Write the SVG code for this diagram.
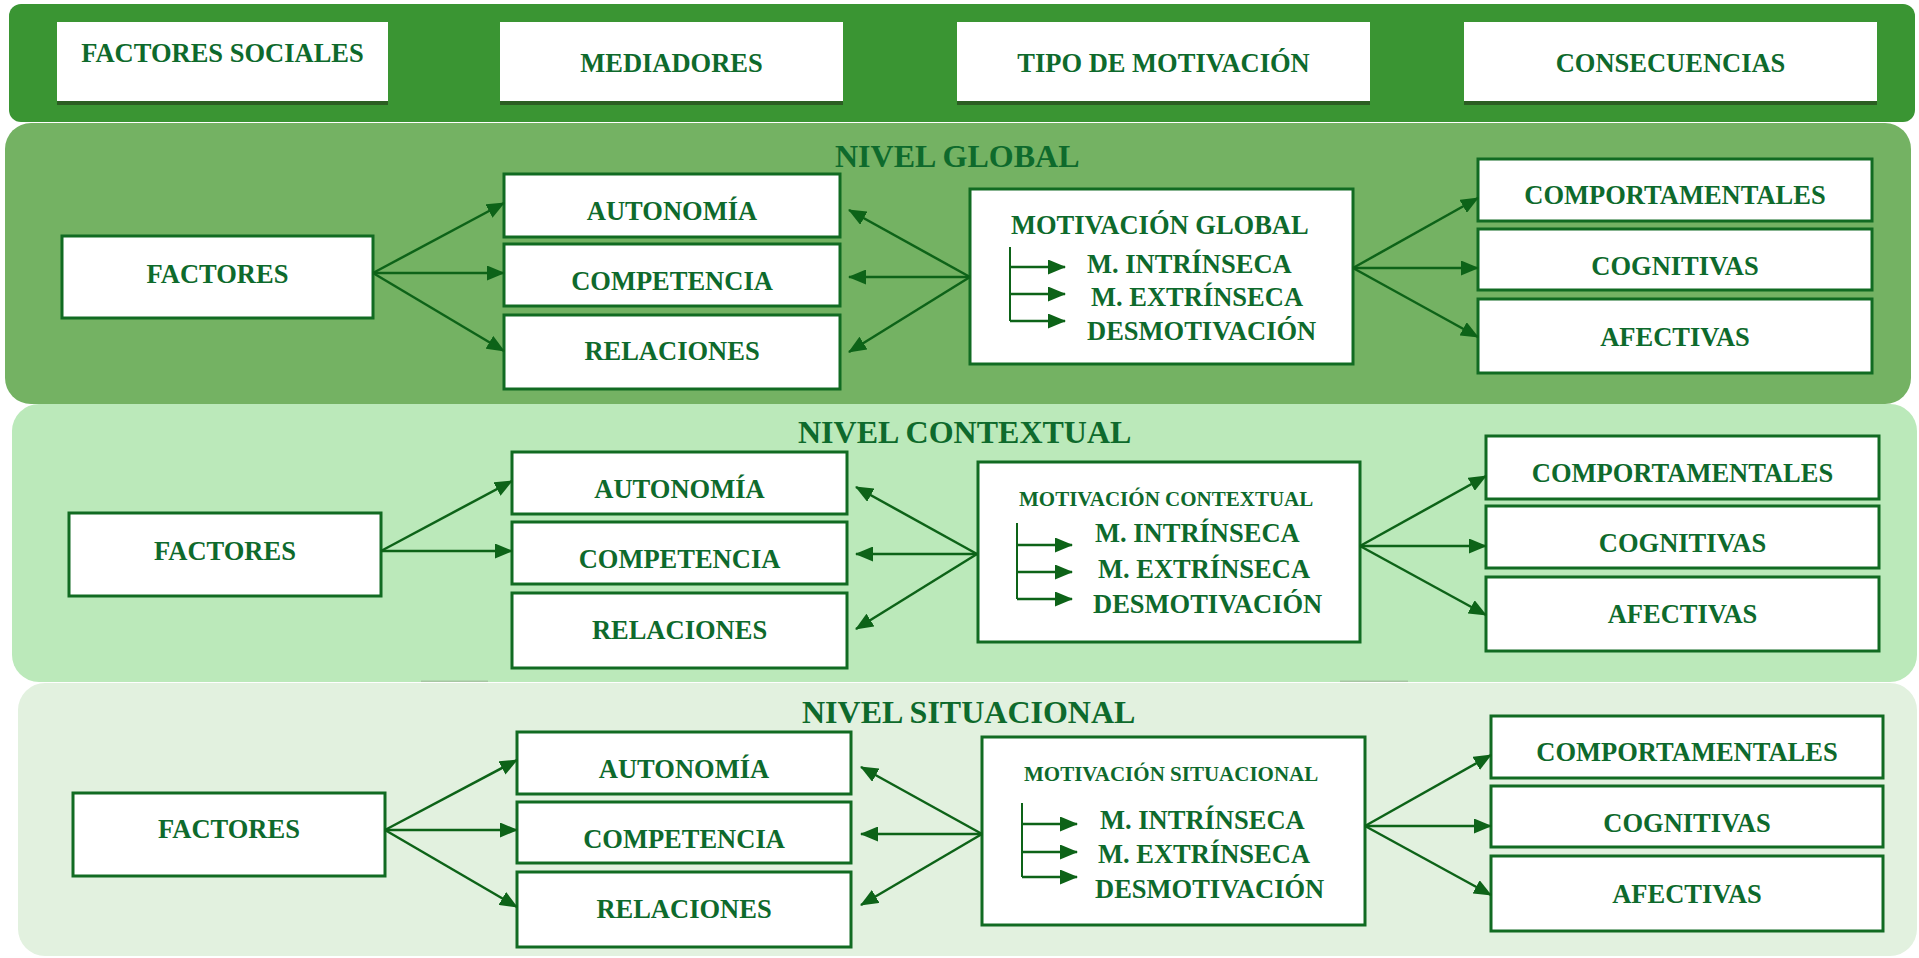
<svg xmlns="http://www.w3.org/2000/svg" width="1919" height="958" viewBox="0 0 1919 958">
<style>
text{font-family:"Liberation Serif","Times New Roman",serif;font-weight:bold;fill:#0e6a2c;font-size:26.5px}
.c{text-anchor:middle}
.t{font-size:32px}
.s{font-size:21px}
.box{fill:#fff;stroke:#116b22;stroke-width:3}
.hdr{fill:#fff}
.sh{fill:#2b5e22}
.a{stroke:#0d6318;stroke-width:2.5;fill:none;marker-end:url(#ah)}
.b{stroke:#0d6318;stroke-width:2;fill:none}
</style>
<defs>
<marker id="ah" markerUnits="userSpaceOnUse" markerWidth="18" markerHeight="15" refX="17" refY="7.5" orient="auto" viewBox="0 0 18 15">
<path d="M0,0 L18,7.5 L0,15 z" fill="#0d6318"/>
</marker>
</defs>
<rect width="1919" height="958" fill="#fff"/>
<g id="panels">
<rect x="9" y="4" width="1906" height="118" rx="12" fill="#3a9533"/>
<rect x="5" y="123" width="1906" height="281" rx="26" fill="#74b263"/>
<rect x="12" y="404" width="1905" height="278" rx="27" fill="#bbe9ba"/>
<rect x="18" y="683" width="1899" height="273" rx="27" fill="#e2f1df"/>
<rect x="421" y="680.5" width="67" height="1.5" fill="#a6c6a2"/>
<rect x="1340" y="680.5" width="68" height="1.5" fill="#a6c6a2"/>
</g>
<g id="header">
<g id="h-factores"><rect class="sh" x="57" y="101" width="331" height="4"/><rect class="hdr" x="57" y="22" width="331" height="79"/><text class="c" x="222.5" y="62">FACTORES SOCIALES</text></g>
<g id="h-mediadores"><rect class="sh" x="500" y="101" width="343" height="4"/><rect class="hdr" x="500" y="22" width="343" height="79"/><text class="c" x="671.5" y="72">MEDIADORES</text></g>
<g id="h-tipo"><rect class="sh" x="957" y="101" width="413" height="4"/><rect class="hdr" x="957" y="22" width="413" height="79"/><text class="c" x="1163.5" y="72">TIPO DE MOTIVACIÓN</text></g>
<g id="h-consecuencias"><rect class="sh" x="1464" y="101" width="413" height="4"/><rect class="hdr" x="1464" y="22" width="413" height="79"/><text class="c" x="1670.5" y="72">CONSECUENCIAS</text></g>
</g>
<text class="t" x="835" y="167">NIVEL GLOBAL</text>
<text class="t" x="798" y="443">NIVEL CONTEXTUAL</text>
<text class="t" x="802" y="723">NIVEL SITUACIONAL</text>
<g id="g-factores"><rect class="box" x="62" y="236" width="311" height="82"/><text class="c" x="217.5" y="283">FACTORES</text></g>
<g id="g-autonomia"><rect class="box" x="504" y="174" width="336" height="63"/><text class="c" x="672" y="220">AUTONOMÍA</text></g>
<g id="g-competencia"><rect class="box" x="504" y="244" width="336" height="62"/><text class="c" x="672" y="290">COMPETENCIA</text></g>
<g id="g-relaciones"><rect class="box" x="504" y="315" width="336" height="74"/><text class="c" x="672" y="360">RELACIONES</text></g>
<g id="g-motivacion"><rect class="box" x="970" y="189" width="383" height="175"/><text x="1011" y="234">MOTIVACIÓN GLOBAL</text><text x="1087" y="273">M. INTRÍNSECA</text><text x="1091" y="306">M. EXTRÍNSECA</text><text x="1087" y="340">DESMOTIVACIÓN</text></g>
<g id="g-comportamentales"><rect class="box" x="1478" y="159" width="394" height="62"/><text class="c" x="1675" y="204">COMPORTAMENTALES</text></g>
<g id="g-cognitivas"><rect class="box" x="1478" y="229" width="394" height="61"/><text class="c" x="1675" y="275">COGNITIVAS</text></g>
<g id="g-afectivas"><rect class="box" x="1478" y="299" width="394" height="74"/><text class="c" x="1675" y="346">AFECTIVAS</text></g>
<g id="c-factores"><rect class="box" x="69" y="513" width="312" height="83"/><text class="c" x="225" y="560">FACTORES</text></g>
<g id="c-autonomia"><rect class="box" x="512" y="452" width="335" height="62"/><text class="c" x="679.5" y="498">AUTONOMÍA</text></g>
<g id="c-competencia"><rect class="box" x="512" y="522" width="335" height="62"/><text class="c" x="679.5" y="568">COMPETENCIA</text></g>
<g id="c-relaciones"><rect class="box" x="512" y="593" width="335" height="75"/><text class="c" x="679.5" y="639">RELACIONES</text></g>
<g id="c-motivacion"><rect class="box" x="978" y="462" width="382" height="180"/><text class="s" x="1019" y="506">MOTIVACIÓN CONTEXTUAL</text><text x="1095" y="542">M. INTRÍNSECA</text><text x="1098" y="578">M. EXTRÍNSECA</text><text x="1093" y="613">DESMOTIVACIÓN</text></g>
<g id="c-comportamentales"><rect class="box" x="1486" y="436" width="393" height="63"/><text class="c" x="1682.5" y="482">COMPORTAMENTALES</text></g>
<g id="c-cognitivas"><rect class="box" x="1486" y="506" width="393" height="62"/><text class="c" x="1682.5" y="552">COGNITIVAS</text></g>
<g id="c-afectivas"><rect class="box" x="1486" y="577" width="393" height="74"/><text class="c" x="1682.5" y="623">AFECTIVAS</text></g>
<g id="s-factores"><rect class="box" x="73" y="793" width="312" height="83"/><text class="c" x="229" y="838">FACTORES</text></g>
<g id="s-autonomia"><rect class="box" x="517" y="732" width="334" height="62"/><text class="c" x="684" y="778">AUTONOMÍA</text></g>
<g id="s-competencia"><rect class="box" x="517" y="802" width="334" height="61"/><text class="c" x="684" y="848">COMPETENCIA</text></g>
<g id="s-relaciones"><rect class="box" x="517" y="872" width="334" height="75"/><text class="c" x="684" y="918">RELACIONES</text></g>
<g id="s-motivacion"><rect class="box" x="982" y="737" width="383" height="188"/><text class="s" x="1024" y="781">MOTIVACIÓN SITUACIONAL</text><text x="1100" y="829">M. INTRÍNSECA</text><text x="1098" y="863">M. EXTRÍNSECA</text><text x="1095" y="898">DESMOTIVACIÓN</text></g>
<g id="s-comportamentales"><rect class="box" x="1491" y="716" width="392" height="62"/><text class="c" x="1687" y="761">COMPORTAMENTALES</text></g>
<g id="s-cognitivas"><rect class="box" x="1491" y="786" width="392" height="61"/><text class="c" x="1687" y="832">COGNITIVAS</text></g>
<g id="s-afectivas"><rect class="box" x="1491" y="856" width="392" height="75"/><text class="c" x="1687" y="903">AFECTIVAS</text></g>
<g id="connectors">
<path class="a" d="M373,273 L504,203"/>
<path class="a" d="M373,273 L504,273"/>
<path class="a" d="M373,273 L504,351"/>
<path class="a" d="M970,277 L849,210"/>
<path class="a" d="M970,277 L849,277"/>
<path class="a" d="M970,277 L849,352"/>
<path class="a" d="M1353,268 L1478,198"/>
<path class="a" d="M1353,268 L1478,268"/>
<path class="a" d="M1353,268 L1478,337"/>
<path class="b" d="M1010,247 L1010,321"/>
<path class="a" d="M1010,267 L1065,267"/>
<path class="a" d="M1010,294 L1065,294"/>
<path class="a" d="M1010,321 L1065,321"/>
<path class="a" d="M381,551 L512,481"/>
<path class="a" d="M381,551 L512,551"/>
<path class="a" d="M977,554 L856,487"/>
<path class="a" d="M977,554 L856,554"/>
<path class="a" d="M977,554 L856,629"/>
<path class="a" d="M1360,546 L1486,476"/>
<path class="a" d="M1360,546 L1486,546"/>
<path class="a" d="M1360,546 L1486,615"/>
<path class="b" d="M1017,523 L1017,599"/>
<path class="a" d="M1017,545 L1072,545"/>
<path class="a" d="M1017,572 L1072,572"/>
<path class="a" d="M1017,599 L1072,599"/>
<path class="a" d="M385,830 L517,760"/>
<path class="a" d="M385,830 L517,830"/>
<path class="a" d="M385,830 L517,907"/>
<path class="a" d="M982,834 L861,767"/>
<path class="a" d="M982,834 L861,834"/>
<path class="a" d="M982,834 L861,905"/>
<path class="a" d="M1365,826 L1491,755"/>
<path class="a" d="M1365,826 L1491,826"/>
<path class="a" d="M1365,826 L1491,895"/>
<path class="b" d="M1022,803 L1022,877"/>
<path class="a" d="M1022,824 L1077,824"/>
<path class="a" d="M1022,852 L1077,852"/>
<path class="a" d="M1022,877 L1077,877"/>
</g>
</svg>
